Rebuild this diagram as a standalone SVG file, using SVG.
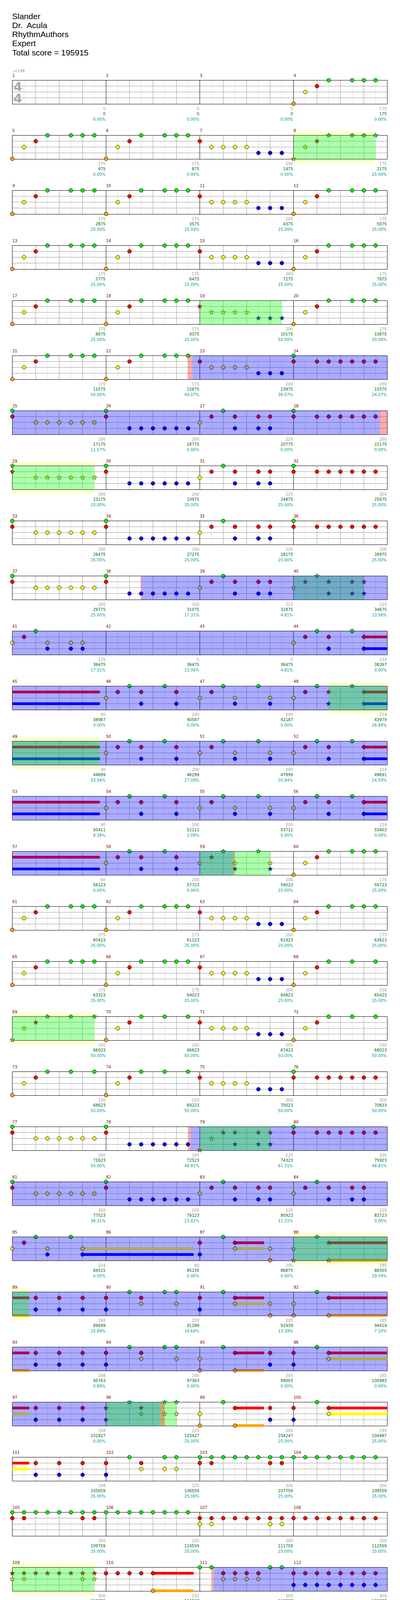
<svg xmlns="http://www.w3.org/2000/svg" width="1024" height="5845" viewBox="0 0 1024 5845">
<style>
text{font-family:"DejaVu Sans","Liberation Sans",sans-serif;font-size:10px}
.h{font-family:"Liberation Sans",Arial,sans-serif;font-size:21px;fill:#000}
.n{fill:#800000}
.s{fill:#999;text-anchor:end}
.c{fill:#006400;text-anchor:end}
.p{fill:#009999;text-anchor:end}
.t{fill:#999}
.ts{fill:#aaa;font-size:32px;font-weight:bold}
.q{stroke:#000;stroke-width:1}
.oy{fill:#ff0;fill-opacity:.2}
.og{fill:#0f0;fill-opacity:.33}
.ob{fill:#00f;fill-opacity:.33}
.or{fill:#f00;fill-opacity:.33}
.zr,.zy,.zb,.zo{stroke-width:7;fill:none}
.zr{stroke:#f00}.zy{stroke:#ff0}.zb{stroke:#00f}.zo{stroke:#ffa500}
</style>
<defs>
<g id="S4">
<rect width="960" height="61" fill="#fff"/>
<path stroke="#ddd" d="M30 0V61M90 0V61M150 0V61M210 0V61M270 0V61M330 0V61M390 0V61M450 0V61M510 0V61M570 0V61M630 0V61M690 0V61M750 0V61M810 0V61M870 0V61M930 0V61"/>
<path stroke="#999" d="M60 0V61M120 0V61M180 0V61M300 0V61M360 0V61M420 0V61M540 0V61M600 0V61M660 0V61M780 0V61M840 0V61M900 0V61M0 15H960M0 30H960M0 45H960"/>
<path stroke="#000" fill="none" d="M0 0H960V61H0ZM240 0V61M480 0V61M720 0V61"/>
</g>
<g id="S3">
<rect width="720" height="61" fill="#fff"/>
<path stroke="#ddd" d="M30 0V61M90 0V61M150 0V61M210 0V61M270 0V61M330 0V61M390 0V61M450 0V61M510 0V61M570 0V61M630 0V61M690 0V61"/>
<path stroke="#999" d="M60 0V61M120 0V61M180 0V61M300 0V61M360 0V61M420 0V61M540 0V61M600 0V61M660 0V61M0 15H720M0 30H720M0 45H720"/>
<path stroke="#000" fill="none" d="M0 0H720V61H0ZM240 0V61M480 0V61"/>
</g>
<circle id="g" class="q" r="4.8" fill="#0e0"/>
<circle id="r" class="q" cy="15" r="4.8" fill="#f00"/>
<circle id="y" class="q" cy="30" r="4.8" fill="#ff0"/>
<circle id="b" class="q" cy="45" r="4.8" fill="#00f"/>
<circle id="o" class="q" cy="60" r="4.8" fill="#ffa500"/>
<path id="st" stroke="#000" stroke-width=".8" d="M0-6.2L1.47-2.02 5.9-1.92 2.38 0.77 3.64 5.02 0 2.5-3.64 5.02-2.38 0.77-5.9-1.92-1.47-2.02Z"/>
<use id="G" href="#st" fill="#0e0"/>
<use id="R" href="#st" y="15" fill="#f00"/>
<use id="Y" href="#st" y="30" fill="#ff0"/>
<use id="B" href="#st" y="45" fill="#00f"/>
<use id="O" href="#st" y="60" fill="#ffa500"/>
<g id="pA"><use href="#o"/><use href="#y" x="30"/><use href="#r" x="60"/><use href="#g" x="90"/><use href="#g" x="150"/><use href="#g" x="180"/><use href="#g" x="210"/></g>
<g id="pA2"><use href="#o"/><use href="#y" x="30"/><use href="#r" x="60"/><use href="#g" x="90"/><use href="#g" x="150"/><use href="#g" x="210"/></g>
<g id="pB"><use href="#r"/><use href="#y" x="30"/><use href="#y" x="60"/><use href="#y" x="90"/><use href="#y" x="120"/><use href="#b" x="150"/><use href="#b" x="180"/><use href="#b" x="210"/></g>
<g id="pC"><use href="#g"/><use href="#r"/><use href="#r" x="60"/><use href="#r" x="90"/><use href="#r" x="120"/><use href="#r" x="150"/><use href="#r" x="180"/><use href="#r" x="210"/></g>
<g id="pD"><use href="#g"/><use href="#r"/><use href="#y" x="60"/><use href="#y" x="90"/><use href="#y" x="120"/><use href="#y" x="150"/><use href="#y" x="180"/><use href="#y" x="210"/></g>
<g id="pE"><use href="#g"/><use href="#r"/><use href="#b" x="60"/><use href="#b" x="90"/><use href="#b" x="120"/><use href="#b" x="150"/><use href="#b" x="180"/><use href="#b" x="210"/></g>
<g id="pF"><use href="#y"/><use href="#r" x="30"/><use href="#g" x="60"/><use href="#r" x="90"/><use href="#b" x="90"/><use href="#r" x="150"/><use href="#b" x="150"/><use href="#r" x="180"/><use href="#b" x="180"/></g>
<g id="pG"><use href="#y"/><use href="#r" x="30"/><use href="#g" x="60"/><use href="#r" x="90"/><use href="#b" x="90"/><use href="#g" x="150"/><use href="#r" x="180"/><use href="#b" x="180"/></g>
<g id="pH"><use href="#y"/><use href="#r" x="30"/><use href="#g" x="60"/><use href="#y" x="90"/><use href="#b" x="90"/><use href="#y" x="150"/><use href="#b" x="150"/><use href="#y" x="180"/><use href="#b" x="180"/></g>
<g id="pJ"><use href="#y"/><use href="#r" x="30"/><use href="#g" x="60"/><use href="#y" x="90"/><use href="#b" x="90"/><use href="#g" x="150"/><use href="#y" x="180"/><use href="#b" x="180"/></g>
<g id="pK"><use href="#r" x="60"/><use href="#b" x="60"/><use href="#r" x="120"/><use href="#b" x="120"/><use href="#r" x="180"/><use href="#b" x="180"/></g>
<g id="pL"><use href="#r"/><use href="#b"/><use href="#g" x="60"/><use href="#r" x="90"/><use href="#y" x="90"/><use href="#g" x="150"/><use href="#g" x="180"/><use href="#y" x="180"/></g>
<g id="pL2"><use href="#r"/><use href="#b"/><use href="#g" x="60"/><use href="#r" x="90"/><use href="#y" x="90"/><use href="#g" x="150"/><use href="#y" x="150"/><use href="#g" x="180"/><use href="#y" x="180"/></g>
<g id="p8g"><use href="#g"/><use href="#g" x="30"/><use href="#g" x="60"/><use href="#g" x="90"/><use href="#g" x="120"/><use href="#g" x="150"/><use href="#g" x="180"/><use href="#g" x="210"/></g>
<g id="p8r"><use href="#r"/><use href="#r" x="30"/><use href="#r" x="60"/><use href="#r" x="90"/><use href="#r" x="120"/><use href="#r" x="150"/><use href="#r" x="180"/><use href="#r" x="210"/></g>
<g id="p8y"><use href="#y"/><use href="#y" x="30"/><use href="#y" x="60"/><use href="#y" x="90"/><use href="#y" x="120"/><use href="#y" x="150"/><use href="#y" x="180"/><use href="#y" x="210"/></g>
<g id="p8b"><use href="#b"/><use href="#b" x="30"/><use href="#b" x="60"/><use href="#b" x="90"/><use href="#b" x="120"/><use href="#b" x="150"/><use href="#b" x="180"/><use href="#b" x="210"/></g>
<g id="p8o"><use href="#o"/><use href="#o" x="30"/><use href="#o" x="60"/><use href="#o" x="90"/><use href="#o" x="120"/><use href="#o" x="150"/><use href="#o" x="180"/><use href="#o" x="210"/></g>
<g id="pM"><use href="#g"/><use href="#g" x="30"/><use href="#r" x="60"/><use href="#y" x="60"/><use href="#r" x="90"/><use href="#y" x="90"/><use href="#r" x="120"/><use href="#y" x="120"/><use href="#r" x="150"/><use href="#y" x="150"/><use href="#g" x="180"/><use href="#g" x="210"/></g>
<g id="pW"><use href="#g"/><use href="#g" x="30"/><use href="#r" x="60"/><use href="#o" x="60"/><use href="#r" x="90"/><use href="#o" x="90"/><use href="#r" x="120"/><use href="#o" x="120"/><use href="#r" x="150"/><use href="#o" x="150"/><use href="#g" x="180"/><use href="#g" x="210"/></g>
<g id="pO"><use href="#y"/><use href="#o"/><use href="#y" x="30"/><use href="#o" x="30"/><use href="#y" x="60"/><use href="#o" x="60"/><use href="#y" x="90"/><use href="#o" x="90"/><use href="#b" x="120"/><use href="#o" x="120"/><use href="#y" x="165"/><use href="#o" x="165"/><use href="#y" x="210"/><use href="#b" x="210"/></g>
<g id="pP"><use href="#y"/><use href="#o"/><use href="#y" x="60"/><use href="#o" x="60"/><use href="#y" x="90"/><use href="#o" x="90"/><use href="#y" x="120"/><use href="#o" x="120"/><use href="#y" x="150"/><use href="#o" x="150"/><use href="#y" x="180"/><use href="#o" x="180"/><use href="#y" x="210"/><use href="#o" x="210"/></g>
<g id="pR"><use href="#g"/><use href="#r"/><use href="#g" x="30"/><use href="#r" x="30"/><use href="#g" x="45"/><use href="#r" x="45"/><use href="#g" x="75"/><use href="#r" x="75"/><use href="#g" x="90"/><use href="#r" x="90"/></g>
<g id="pS"><path class="zy" d="M0 30H74.4M90 30H164.5M360 30H404.9M420 30H464.3"/><path class="zo" d="M0 60H74.4M270 60H344.8M360 60H404.9"/><path class="zr" d="M90 15H164.5M180 15H254.7"/><path class="zb" d="M180 45H254.7M270 45H344.8M420 45H464.3"/><use href="#y"/><use href="#o"/><use href="#r" x="90"/><use href="#y" x="90"/><use href="#r" x="180"/><use href="#b" x="180"/><use href="#b" x="270"/><use href="#o" x="270"/><use href="#y" x="360"/><use href="#o" x="360"/><use href="#y" x="420"/><use href="#b" x="420"/></g>
<g id="pT"><use href="#r" x="30"/><use href="#r" x="45"/><use href="#y" x="60"/><use href="#y" x="75"/><use href="#r" x="90"/><use href="#r" x="105"/><use href="#y" x="150"/><use href="#y" x="165"/><use href="#b" x="180"/><use href="#b" x="195"/><use href="#y" x="210"/><use href="#y" x="225"/></g>
<g id="pU"><use href="#r" x="30"/><use href="#r" x="45"/><use href="#y" x="60"/><use href="#y" x="75"/><use href="#r" x="90"/><use href="#r" x="105"/><use href="#g" x="150"/><use href="#g" x="165"/><use href="#r" x="180"/><use href="#r" x="195"/><use href="#g" x="210"/><use href="#g" x="225"/></g>
<g id="pV"><use href="#r" x="30"/><use href="#r" x="45"/><use href="#y" x="60"/><use href="#y" x="75"/><use href="#r" x="90"/><use href="#r" x="105"/><use href="#b" x="150"/><use href="#b" x="165"/><use href="#o" x="180"/><use href="#o" x="195"/><use href="#b" x="210"/><use href="#b" x="225"/></g>
<g id="pX"><use href="#g"/><use href="#g" x="30"/><use href="#g" x="45"/><use href="#g" x="75"/></g>
</defs>
<rect width="1024" height="5845" fill="#fff"/>
<g id="header">
<text class="h" x="31" y="49">Slander</text>
<text class="h" x="31" y="72" xml:space="preserve">Dr.  Acula</text>
<text class="h" x="31" y="95">RhythmAuthors</text>
<text class="h" x="31" y="118">Expert</text>
<text class="h" x="31" y="141.5">Total score = 195915</text>
</g>

<g id="row0" transform="translate(31.5 205.5)">
<text class="t" x="0" y="-20.5">♩=196</text>
<use href="#S4"/>
<text class="ts" x="3" y="27">4</text><text class="ts" x="3" y="57">4</text>
<use href="#pA" x="720"/>
<text class="n" y="-8.5"><tspan x="0">1</tspan><tspan x="240">2</tspan><tspan x="480">3</tspan><tspan x="720">4</tspan></text>
<text class="s" y="76.5"><tspan x="238.5">0</tspan><tspan x="478.5">0</tspan><tspan x="718.5">0</tspan><tspan x="958.5">175</tspan></text>
<text class="c" y="89.5"><tspan x="238.5">0</tspan><tspan x="478.5">0</tspan><tspan x="718.5">0</tspan><tspan x="958.5">175</tspan></text>
<text class="p" y="103"><tspan x="238.5">0.00%</tspan><tspan x="478.5">0.00%</tspan><tspan x="718.5">0.00%</tspan><tspan x="958.5">0.00%</tspan></text>
</g>

<g id="row1" transform="translate(31.5 346.5)">
<rect class="oy" x="720" y="-10.5" width="210" height="82"/>
<use href="#S4"/>
<use href="#pA"/><use href="#pA" x="240"/><use href="#pB" x="480"/>
<use href="#O" x="720"/><use href="#Y" x="750"/><use href="#R" x="780"/><use href="#G" x="810"/><use href="#G" x="870"/><use href="#G" x="900"/><use href="#G" x="930"/>
<rect class="og" x="720" width="210" height="61"/>
<text class="n" y="-8.5"><tspan x="0">5</tspan><tspan x="240">6</tspan><tspan x="480">7</tspan><tspan x="720">8</tspan></text>
<text class="s" y="76.5"><tspan x="238.5">175</tspan><tspan x="478.5">175</tspan><tspan x="718.5">200</tspan><tspan x="958.5">175</tspan></text>
<text class="c" y="89.5"><tspan x="238.5">475</tspan><tspan x="478.5">875</tspan><tspan x="718.5">1475</tspan><tspan x="958.5">2175</tspan></text>
<text class="p" y="103"><tspan x="238.5">0.00%</tspan><tspan x="478.5">0.00%</tspan><tspan x="718.5">0.00%</tspan><tspan x="958.5">25.00%</tspan></text>
</g>

<g id="row2" transform="translate(31.5 487.5)">
<use href="#S4"/>
<use href="#pA"/><use href="#pA" x="240"/><use href="#pB" x="480"/><use href="#pA" x="720"/>
<text class="n" y="-8.5"><tspan x="0">9</tspan><tspan x="240">10</tspan><tspan x="480">11</tspan><tspan x="720">12</tspan></text>
<text class="s" y="76.5"><tspan x="238.5">175</tspan><tspan x="478.5">175</tspan><tspan x="718.5">200</tspan><tspan x="958.5">175</tspan></text>
<text class="c" y="89.5"><tspan x="238.5">2875</tspan><tspan x="478.5">3575</tspan><tspan x="718.5">4375</tspan><tspan x="958.5">5075</tspan></text>
<text class="p" y="103"><tspan x="238.5">25.00%</tspan><tspan x="478.5">25.00%</tspan><tspan x="718.5">25.00%</tspan><tspan x="958.5">25.00%</tspan></text>
</g>

<g id="row3" transform="translate(31.5 628.5)">
<use href="#S4"/>
<use href="#pA"/><use href="#pA" x="240"/><use href="#pB" x="480"/><use href="#pA" x="720"/>
<text class="n" y="-8.5"><tspan x="0">13</tspan><tspan x="240">14</tspan><tspan x="480">15</tspan><tspan x="720">16</tspan></text>
<text class="s" y="76.5"><tspan x="238.5">175</tspan><tspan x="478.5">175</tspan><tspan x="718.5">200</tspan><tspan x="958.5">175</tspan></text>
<text class="c" y="89.5"><tspan x="238.5">5775</tspan><tspan x="478.5">6475</tspan><tspan x="718.5">7275</tspan><tspan x="958.5">7975</tspan></text>
<text class="p" y="103"><tspan x="238.5">25.00%</tspan><tspan x="478.5">25.00%</tspan><tspan x="718.5">25.00%</tspan><tspan x="958.5">25.00%</tspan></text>
</g>

<g id="row4" transform="translate(31.5 769.5)">
<use href="#S4"/>
<use href="#pA"/><use href="#pA" x="240"/>
<use href="#R" x="480"/><use href="#Y" x="510"/><use href="#Y" x="540"/><use href="#Y" x="570"/><use href="#Y" x="600"/><use href="#B" x="630"/><use href="#B" x="660"/><use href="#B" x="690"/>
<use href="#pA" x="720"/>
<rect class="og" x="480" width="210" height="61"/>
<text class="n" y="-8.5"><tspan x="0">17</tspan><tspan x="240">18</tspan><tspan x="480">19</tspan><tspan x="720">20</tspan></text>
<text class="s" y="76.5"><tspan x="238.5">175</tspan><tspan x="478.5">175</tspan><tspan x="718.5">200</tspan><tspan x="958.5">175</tspan></text>
<text class="c" y="89.5"><tspan x="238.5">8675</tspan><tspan x="478.5">9375</tspan><tspan x="718.5">10175</tspan><tspan x="958.5">10875</tspan></text>
<text class="p" y="103"><tspan x="238.5">25.00%</tspan><tspan x="478.5">25.00%</tspan><tspan x="718.5">50.00%</tspan><tspan x="958.5">50.00%</tspan></text>
</g>

<g id="row5" transform="translate(31.5 910.5)">
<use href="#S4"/>
<use href="#pA"/><use href="#pA" x="240"/><use href="#pB" x="480"/><use href="#pC" x="720"/>
<rect class="or" x="449" width="12" height="61"/>
<rect class="ob" x="461" width="499" height="61"/>
<text class="n" y="-8.5"><tspan x="0">21</tspan><tspan x="240">22</tspan><tspan x="480">23</tspan><tspan x="720">24</tspan></text>
<text class="s" y="76.5"><tspan x="238.5">175</tspan><tspan x="478.5">175</tspan><tspan x="718.5">200</tspan><tspan x="958.5">200</tspan></text>
<text class="c" y="89.5"><tspan x="238.5">11575</tspan><tspan x="478.5">12875</tspan><tspan x="718.5">13975</tspan><tspan x="958.5">15575</tspan></text>
<text class="p" y="103"><tspan x="238.5">50.00%</tspan><tspan x="478.5">49.07%</tspan><tspan x="718.5">36.57%</tspan><tspan x="958.5">24.07%</tspan></text>
</g>

<g id="row6" transform="translate(31.5 1051.5)">
<use href="#S4"/>
<use href="#pD"/><use href="#pE" x="240"/><use href="#pF" x="480"/><use href="#pC" x="720"/>
<rect class="ob" x="0" width="941.7" height="61"/>
<rect class="or" x="941.7" width="18.3" height="61"/>
<text class="n" y="-8.5"><tspan x="0">25</tspan><tspan x="240">26</tspan><tspan x="480">27</tspan><tspan x="720">28</tspan></text>
<text class="s" y="76.5"><tspan x="238.5">200</tspan><tspan x="478.5">200</tspan><tspan x="718.5">225</tspan><tspan x="958.5">200</tspan></text>
<text class="c" y="89.5"><tspan x="238.5">17175</tspan><tspan x="478.5">18775</tspan><tspan x="718.5">20775</tspan><tspan x="958.5">22175</tspan></text>
<text class="p" y="103"><tspan x="238.5">11.57%</tspan><tspan x="478.5">0.00%</tspan><tspan x="718.5">0.00%</tspan><tspan x="958.5">0.00%</tspan></text>
</g>

<g id="row7" transform="translate(31.5 1192.5)">
<rect class="oy" x="0" y="-10.5" width="210" height="82"/>
<use href="#S4"/>
<use href="#G"/><use href="#R"/><use href="#Y" x="60"/><use href="#Y" x="90"/><use href="#Y" x="120"/><use href="#Y" x="150"/><use href="#Y" x="180"/><use href="#Y" x="210"/>
<use href="#pE" x="240"/><use href="#pF" x="480"/><use href="#pC" x="720"/>
<rect class="og" x="0" width="210" height="61"/>
<text class="n" y="-8.5"><tspan x="0">29</tspan><tspan x="240">30</tspan><tspan x="480">31</tspan><tspan x="720">32</tspan></text>
<text class="s" y="76.5"><tspan x="238.5">200</tspan><tspan x="478.5">200</tspan><tspan x="718.5">225</tspan><tspan x="958.5">200</tspan></text>
<text class="c" y="89.5"><tspan x="238.5">23175</tspan><tspan x="478.5">23975</tspan><tspan x="718.5">24875</tspan><tspan x="958.5">25675</tspan></text>
<text class="p" y="103"><tspan x="238.5">25.00%</tspan><tspan x="478.5">25.00%</tspan><tspan x="718.5">25.00%</tspan><tspan x="958.5">25.00%</tspan></text>
</g>

<g id="row8" transform="translate(31.5 1333.5)">
<use href="#S4"/>
<use href="#pD"/><use href="#pE" x="240"/><use href="#pF" x="480"/><use href="#pC" x="720"/>
<text class="n" y="-8.5"><tspan x="0">33</tspan><tspan x="240">34</tspan><tspan x="480">35</tspan><tspan x="720">36</tspan></text>
<text class="s" y="76.5"><tspan x="238.5">200</tspan><tspan x="478.5">200</tspan><tspan x="718.5">225</tspan><tspan x="958.5">200</tspan></text>
<text class="c" y="89.5"><tspan x="238.5">26475</tspan><tspan x="478.5">27275</tspan><tspan x="718.5">28175</tspan><tspan x="958.5">28975</tspan></text>
<text class="p" y="103"><tspan x="238.5">25.00%</tspan><tspan x="478.5">25.00%</tspan><tspan x="718.5">25.00%</tspan><tspan x="958.5">25.00%</tspan></text>
</g>

<g id="row9" transform="translate(31.5 1474.5)">
<use href="#S4"/>
<use href="#pD"/><use href="#pE" x="240"/><use href="#pF" x="480"/>
<use href="#Y" x="720"/><use href="#R" x="750"/><use href="#G" x="780"/><use href="#R" x="810"/><use href="#B" x="810"/><use href="#R" x="870"/><use href="#B" x="870"/><use href="#R" x="900"/><use href="#B" x="900"/>
<rect class="og" x="720" width="180" height="61"/>
<rect class="or" x="328.5" width="2.5" height="61"/>
<rect class="ob" x="331" width="629" height="61"/>
<text class="n" y="-8.5"><tspan x="0">37</tspan><tspan x="240">38</tspan><tspan x="480">39</tspan><tspan x="720">40</tspan></text>
<text class="s" y="76.5"><tspan x="238.5">200</tspan><tspan x="478.5">200</tspan><tspan x="718.5">225</tspan><tspan x="958.5">225</tspan></text>
<text class="c" y="89.5"><tspan x="238.5">29775</tspan><tspan x="478.5">31075</tspan><tspan x="718.5">32875</tspan><tspan x="958.5">34675</tspan></text>
<text class="p" y="103"><tspan x="238.5">25.00%</tspan><tspan x="478.5">17.31%</tspan><tspan x="718.5">4.81%</tspan><tspan x="958.5">23.56%</tspan></text>
</g>

<g id="row10" transform="translate(31.5 1615.5)">
<use href="#S4"/>
<path class="zr" d="M900 15H960"/><path class="zb" d="M900 45H960"/>
<use href="#pH"/><use href="#pG" x="720"/>
<rect class="ob" x="0" width="960" height="61"/>
<text class="n" y="-8.5"><tspan x="0">41</tspan><tspan x="240">42</tspan><tspan x="480">43</tspan><tspan x="720">44</tspan></text>
<text class="s" y="76.5"><tspan x="238.5">225</tspan><tspan x="478.5">0</tspan><tspan x="718.5">0</tspan><tspan x="958.5">224</tspan></text>
<text class="c" y="89.5"><tspan x="238.5">36475</tspan><tspan x="478.5">36475</tspan><tspan x="718.5">36475</tspan><tspan x="958.5">38267</tspan></text>
<text class="p" y="103"><tspan x="238.5">17.31%</tspan><tspan x="478.5">11.06%</tspan><tspan x="718.5">4.81%</tspan><tspan x="958.5">0.00%</tspan></text>
</g>

<g id="row11" transform="translate(31.5 1756.5)">
<rect class="oy" x="810" y="-10.5" width="150" height="82"/>
<use href="#S4"/>
<path class="zr" d="M0 15H224M900 15H960"/><path class="zb" d="M0 45H224M900 45H960"/>
<use href="#pG" x="240"/><use href="#pJ" x="480"/>
<use href="#y" x="720"/><use href="#r" x="750"/><use href="#g" x="780"/>
<use href="#R" x="810"/><use href="#B" x="810"/><use href="#G" x="870"/><use href="#R" x="900"/><use href="#B" x="900"/>
<rect class="ob" x="0" width="960" height="61"/>
<rect class="og" x="810" width="150" height="61"/>
<text class="n" y="-8.5"><tspan x="0">45</tspan><tspan x="240">46</tspan><tspan x="480">47</tspan><tspan x="720">48</tspan></text>
<text class="s" y="76.5"><tspan x="238.5">90</tspan><tspan x="478.5">200</tspan><tspan x="718.5">200</tspan><tspan x="958.5">224</tspan></text>
<text class="c" y="89.5"><tspan x="238.5">38987</tspan><tspan x="478.5">40587</tspan><tspan x="718.5">42187</tspan><tspan x="958.5">43979</tspan></text>
<text class="p" y="103"><tspan x="238.5">0.00%</tspan><tspan x="478.5">0.00%</tspan><tspan x="718.5">0.00%</tspan><tspan x="958.5">26.84%</tspan></text>
</g>

<g id="row12" transform="translate(31.5 1897.5)">
<rect class="oy" x="0" y="-10.5" width="224" height="82"/>
<use href="#S4"/>
<path class="zr" d="M0 15H224M900 15H960"/><path class="zb" d="M0 45H224M900 45H960"/>
<use href="#pG" x="240"/><use href="#pJ" x="480"/><use href="#pG" x="720"/>
<rect class="ob" x="0" width="960" height="61"/>
<rect class="og" x="0" width="224" height="61"/>
<text class="n" y="-8.5"><tspan x="0">49</tspan><tspan x="240">50</tspan><tspan x="480">51</tspan><tspan x="720">52</tspan></text>
<text class="s" y="76.5"><tspan x="238.5">90</tspan><tspan x="478.5">200</tspan><tspan x="718.5">200</tspan><tspan x="958.5">224</tspan></text>
<text class="c" y="89.5"><tspan x="238.5">44699</tspan><tspan x="478.5">46299</tspan><tspan x="718.5">47899</tspan><tspan x="958.5">49691</tspan></text>
<text class="p" y="103"><tspan x="238.5">33.34%</tspan><tspan x="478.5">27.09%</tspan><tspan x="718.5">20.84%</tspan><tspan x="958.5">14.59%</tspan></text>
</g>

<g id="row13" transform="translate(31.5 2038.5)">
<use href="#S4"/>
<path class="zr" d="M0 15H224M900 15H960"/><path class="zb" d="M0 45H224M900 45H960"/>
<use href="#pG" x="240"/><use href="#pJ" x="480"/><use href="#pG" x="720"/>
<rect class="ob" x="0" width="960" height="61"/>
<text class="n" y="-8.5"><tspan x="0">53</tspan><tspan x="240">54</tspan><tspan x="480">55</tspan><tspan x="720">56</tspan></text>
<text class="s" y="76.5"><tspan x="238.5">90</tspan><tspan x="478.5">200</tspan><tspan x="718.5">200</tspan><tspan x="958.5">224</tspan></text>
<text class="c" y="89.5"><tspan x="238.5">50411</tspan><tspan x="478.5">52111</tspan><tspan x="718.5">53711</tspan><tspan x="958.5">55403</tspan></text>
<text class="p" y="103"><tspan x="238.5">8.34%</tspan><tspan x="478.5">2.09%</tspan><tspan x="718.5">0.00%</tspan><tspan x="958.5">0.00%</tspan></text>
</g>

<g id="row14" transform="translate(31.5 2179.5)">
<use href="#S4"/>
<path class="zr" d="M0 15H224"/><path class="zb" d="M0 45H224"/>
<use href="#pG" x="240"/>
<use href="#Y" x="480"/><use href="#R" x="510"/><use href="#G" x="540"/><use href="#Y" x="570"/><use href="#B" x="570"/><use href="#G" x="630"/><use href="#Y" x="660"/><use href="#B" x="660"/>
<use href="#pA" x="720"/>
<rect class="ob" x="0" width="564.8" height="61"/>
<rect class="og" x="480" width="180" height="61"/>
<rect class="or" x="564.8" width="4.6" height="61"/>
<text class="n" y="-8.5"><tspan x="0">57</tspan><tspan x="240">58</tspan><tspan x="480">59</tspan><tspan x="720">60</tspan></text>
<text class="s" y="76.5"><tspan x="238.5">90</tspan><tspan x="478.5">200</tspan><tspan x="718.5">200</tspan><tspan x="958.5">175</tspan></text>
<text class="c" y="89.5"><tspan x="238.5">56123</tspan><tspan x="478.5">57723</tspan><tspan x="718.5">59023</tspan><tspan x="958.5">59723</tspan></text>
<text class="p" y="103"><tspan x="238.5">0.00%</tspan><tspan x="478.5">0.00%</tspan><tspan x="718.5">25.00%</tspan><tspan x="958.5">25.00%</tspan></text>
</g>

<g id="row15" transform="translate(31.5 2320.5)">
<use href="#S4"/>
<use href="#pA"/><use href="#pA" x="240"/><use href="#pB" x="480"/><use href="#pA" x="720"/>
<text class="n" y="-8.5"><tspan x="0">61</tspan><tspan x="240">62</tspan><tspan x="480">63</tspan><tspan x="720">64</tspan></text>
<text class="s" y="76.5"><tspan x="238.5">175</tspan><tspan x="478.5">175</tspan><tspan x="718.5">200</tspan><tspan x="958.5">175</tspan></text>
<text class="c" y="89.5"><tspan x="238.5">60423</tspan><tspan x="478.5">61123</tspan><tspan x="718.5">61923</tspan><tspan x="958.5">62623</tspan></text>
<text class="p" y="103"><tspan x="238.5">25.00%</tspan><tspan x="478.5">25.00%</tspan><tspan x="718.5">25.00%</tspan><tspan x="958.5">25.00%</tspan></text>
</g>

<g id="row16" transform="translate(31.5 2461.5)">
<use href="#S4"/>
<use href="#pA"/><use href="#pA" x="240"/><use href="#pB" x="480"/><use href="#pA2" x="720"/>
<text class="n" y="-8.5"><tspan x="0">65</tspan><tspan x="240">66</tspan><tspan x="480">67</tspan><tspan x="720">68</tspan></text>
<text class="s" y="76.5"><tspan x="238.5">175</tspan><tspan x="478.5">175</tspan><tspan x="718.5">200</tspan><tspan x="958.5">150</tspan></text>
<text class="c" y="89.5"><tspan x="238.5">63323</tspan><tspan x="478.5">64023</tspan><tspan x="718.5">64823</tspan><tspan x="958.5">65423</tspan></text>
<text class="p" y="103"><tspan x="238.5">25.00%</tspan><tspan x="478.5">25.00%</tspan><tspan x="718.5">25.00%</tspan><tspan x="958.5">25.00%</tspan></text>
</g>

<g id="row17" transform="translate(31.5 2602.5)">
<rect class="oy" x="0" y="-10.5" width="210" height="82"/>
<use href="#S4"/>
<use href="#O"/><use href="#Y" x="30"/><use href="#R" x="60"/><use href="#G" x="90"/><use href="#G" x="150"/><use href="#G" x="210"/>
<use href="#pA2" x="240"/><use href="#pB" x="480"/><use href="#pA2" x="720"/>
<rect class="og" x="0" width="210" height="61"/>
<text class="n" y="-8.5"><tspan x="0">69</tspan><tspan x="240">70</tspan><tspan x="480">71</tspan><tspan x="720">72</tspan></text>
<text class="s" y="76.5"><tspan x="238.5">150</tspan><tspan x="478.5">150</tspan><tspan x="718.5">200</tspan><tspan x="958.5">150</tspan></text>
<text class="c" y="89.5"><tspan x="238.5">66023</tspan><tspan x="478.5">66623</tspan><tspan x="718.5">67423</tspan><tspan x="958.5">68023</tspan></text>
<text class="p" y="103"><tspan x="238.5">50.00%</tspan><tspan x="478.5">50.00%</tspan><tspan x="718.5">50.00%</tspan><tspan x="958.5">50.00%</tspan></text>
</g>

<g id="row18" transform="translate(31.5 2743.5)">
<use href="#S4"/>
<use href="#pA2"/><use href="#pA2" x="240"/><use href="#pB" x="480"/><use href="#pC" x="720"/>
<text class="n" y="-8.5"><tspan x="0">73</tspan><tspan x="240">74</tspan><tspan x="480">75</tspan><tspan x="720">76</tspan></text>
<text class="s" y="76.5"><tspan x="238.5">150</tspan><tspan x="478.5">150</tspan><tspan x="718.5">200</tspan><tspan x="958.5">200</tspan></text>
<text class="c" y="89.5"><tspan x="238.5">68623</tspan><tspan x="478.5">69223</tspan><tspan x="718.5">70023</tspan><tspan x="958.5">70823</tspan></text>
<text class="p" y="103"><tspan x="238.5">50.00%</tspan><tspan x="478.5">50.00%</tspan><tspan x="718.5">50.00%</tspan><tspan x="958.5">50.00%</tspan></text>
</g>

<g id="row19" transform="translate(31.5 2884.5)">
<use href="#S4"/>
<use href="#pD"/><use href="#pE" x="240"/>
<use href="#O" x="480"/><use href="#Y" x="510"/><use href="#R" x="540"/><use href="#R" x="570"/><use href="#B" x="570"/><use href="#R" x="630"/><use href="#B" x="630"/><use href="#R" x="660"/><use href="#B" x="660"/>
<use href="#pC" x="720"/>
<rect class="or" x="449.9" width="6.5" height="61"/>
<rect class="ob" x="456.4" width="503.6" height="61"/>
<rect class="og" x="480" width="180" height="61"/>
<text class="n" y="-8.5"><tspan x="0">77</tspan><tspan x="240">78</tspan><tspan x="480">79</tspan><tspan x="720">80</tspan></text>
<text class="s" y="76.5"><tspan x="238.5">200</tspan><tspan x="478.5">200</tspan><tspan x="718.5">225</tspan><tspan x="958.5">200</tspan></text>
<text class="c" y="89.5"><tspan x="238.5">71623</tspan><tspan x="478.5">72523</tspan><tspan x="718.5">74323</tspan><tspan x="958.5">75923</tspan></text>
<text class="p" y="103"><tspan x="238.5">50.00%</tspan><tspan x="478.5">48.81%</tspan><tspan x="718.5">61.31%</tspan><tspan x="958.5">48.81%</tspan></text>
</g>

<g id="row20" transform="translate(31.5 3025.5)">
<use href="#S4"/>
<use href="#pD"/><use href="#pE" x="240"/><use href="#pF" x="480"/><use href="#pF" x="720"/>
<rect class="ob" x="0" width="960" height="61"/>
<text class="n" y="-8.5"><tspan x="0">81</tspan><tspan x="240">82</tspan><tspan x="480">83</tspan><tspan x="720">84</tspan></text>
<text class="s" y="76.5"><tspan x="238.5">200</tspan><tspan x="478.5">200</tspan><tspan x="718.5">225</tspan><tspan x="958.5">225</tspan></text>
<text class="c" y="89.5"><tspan x="238.5">77523</tspan><tspan x="478.5">79123</tspan><tspan x="718.5">80923</tspan><tspan x="958.5">82723</tspan></text>
<text class="p" y="103"><tspan x="238.5">36.31%</tspan><tspan x="478.5">23.81%</tspan><tspan x="718.5">11.31%</tspan><tspan x="958.5">0.00%</tspan></text>
</g>

<g id="row21" transform="translate(31.5 3166.5)">
<rect class="oy" x="720" y="-10.5" width="240" height="82"/>
<use href="#S4"/>
<path class="zy" d="M180 30H464.3M570 30H644.5"/><path class="zb" d="M180 45H464.3"/><path class="zr" d="M570 15H644.5M810 15H960"/><path class="zo" d="M810 60H960"/>
<use href="#pJ"/>
<use href="#r" x="480"/><use href="#b" x="480"/><use href="#g" x="540"/><use href="#r" x="570"/><use href="#y" x="570"/><use href="#y" x="660"/><use href="#o" x="660"/>
<use href="#Y" x="720"/><use href="#O" x="720"/><use href="#G" x="780"/><use href="#R" x="810"/><use href="#O" x="810"/>
<rect class="ob" x="0" width="960" height="61"/>
<rect class="og" x="720" width="240" height="61"/>
<text class="n" y="-8.5"><tspan x="0">85</tspan><tspan x="240">86</tspan><tspan x="480">87</tspan><tspan x="720">88</tspan></text>
<text class="s" y="76.5"><tspan x="238.5">224</tspan><tspan x="478.5">90</tspan><tspan x="718.5">205</tspan><tspan x="958.5">185</tspan></text>
<text class="c" y="89.5"><tspan x="238.5">84515</tspan><tspan x="478.5">85235</tspan><tspan x="718.5">86875</tspan><tspan x="958.5">88355</tspan></text>
<text class="p" y="103"><tspan x="238.5">0.00%</tspan><tspan x="478.5">0.00%</tspan><tspan x="718.5">0.00%</tspan><tspan x="958.5">29.59%</tspan></text>
</g>

<g id="row22" transform="translate(31.5 3307.5)">
<rect class="oy" x="0" y="-10.5" width="43.6" height="82"/>
<use href="#S4"/>
<path class="zr" d="M0 15H43.6M570 15H644.5M810 15H960"/><path class="zo" d="M0 60H43.6M810 60H960"/><path class="zy" d="M570 30H644.5"/>
<use href="#pK"/><use href="#pL" x="240"/>
<use href="#r" x="480"/><use href="#b" x="480"/><use href="#g" x="540"/><use href="#r" x="570"/><use href="#y" x="570"/><use href="#y" x="660"/><use href="#o" x="660"/>
<use href="#y" x="720"/><use href="#o" x="720"/><use href="#g" x="780"/><use href="#r" x="810"/><use href="#o" x="810"/>
<rect class="ob" x="0" width="960" height="61"/>
<rect class="og" x="0" width="43.6" height="61"/>
<text class="n" y="-8.5"><tspan x="0">89</tspan><tspan x="240">90</tspan><tspan x="480">91</tspan><tspan x="720">92</tspan></text>
<text class="s" y="76.5"><tspan x="238.5">168</tspan><tspan x="478.5">200</tspan><tspan x="718.5">205</tspan><tspan x="958.5">185</tspan></text>
<text class="c" y="89.5"><tspan x="238.5">89699</tspan><tspan x="478.5">91299</tspan><tspan x="718.5">92939</tspan><tspan x="958.5">94419</tspan></text>
<text class="p" y="103"><tspan x="238.5">25.89%</tspan><tspan x="478.5">19.64%</tspan><tspan x="718.5">13.39%</tspan><tspan x="958.5">7.14%</tspan></text>
</g>

<g id="row23" transform="translate(31.5 3448.5)">
<use href="#S4"/>
<path class="zr" d="M0 15H43.6M570 15H644.5M810 15H960"/><path class="zo" d="M0 60H43.6M570 60H644.5"/><path class="zy" d="M810 30H960"/>
<use href="#pK"/><use href="#pL" x="240"/>
<use href="#y" x="480"/><use href="#o" x="480"/><use href="#g" x="540"/><use href="#r" x="570"/><use href="#o" x="570"/><use href="#r" x="660"/><use href="#b" x="660"/>
<use href="#r" x="720"/><use href="#b" x="720"/><use href="#g" x="780"/><use href="#r" x="810"/><use href="#y" x="810"/>
<rect class="ob" x="0" width="960" height="61"/>
<text class="n" y="-8.5"><tspan x="0">93</tspan><tspan x="240">94</tspan><tspan x="480">95</tspan><tspan x="720">96</tspan></text>
<text class="s" y="76.5"><tspan x="238.5">168</tspan><tspan x="478.5">200</tspan><tspan x="718.5">205</tspan><tspan x="958.5">185</tspan></text>
<text class="c" y="89.5"><tspan x="238.5">95763</tspan><tspan x="478.5">97363</tspan><tspan x="718.5">99003</tspan><tspan x="958.5">100483</tspan></text>
<text class="p" y="103"><tspan x="238.5">0.89%</tspan><tspan x="478.5">0.00%</tspan><tspan x="718.5">0.00%</tspan><tspan x="958.5">0.00%</tspan></text>
</g>

<g id="row24" transform="translate(31.5 3589.5)">
<use href="#S4"/>
<path class="zr" d="M0 15H43.6M570 15H644.5M810 15H960"/><path class="zy" d="M0 30H43.6M810 30H960"/><path class="zo" d="M570 60H644.5"/>
<use href="#pK"/>
<use href="#R" x="240"/><use href="#B" x="240"/><use href="#G" x="300"/><use href="#R" x="330"/><use href="#Y" x="330"/><use href="#G" x="390"/><use href="#Y" x="390"/><use href="#G" x="420"/><use href="#Y" x="420"/>
<use href="#y" x="480"/><use href="#o" x="480"/><use href="#g" x="540"/><use href="#r" x="570"/><use href="#o" x="570"/><use href="#r" x="660"/><use href="#b" x="660"/>
<use href="#r" x="720"/><use href="#b" x="720"/><use href="#g" x="780"/><use href="#r" x="810"/><use href="#y" x="810"/>
<rect class="ob" x="0" width="378" height="61"/>
<rect class="og" x="240" width="180" height="61"/>
<rect class="or" x="378" width="11.8" height="61"/>
<text class="n" y="-8.5"><tspan x="0">97</tspan><tspan x="240">98</tspan><tspan x="480">99</tspan><tspan x="720">100</tspan></text>
<text class="s" y="76.5"><tspan x="238.5">168</tspan><tspan x="478.5">225</tspan><tspan x="718.5">205</tspan><tspan x="958.5">185</tspan></text>
<text class="c" y="89.5"><tspan x="238.5">101827</tspan><tspan x="478.5">103427</tspan><tspan x="718.5">104247</tspan><tspan x="958.5">104987</tspan></text>
<text class="p" y="103"><tspan x="238.5">0.00%</tspan><tspan x="478.5">25.00%</tspan><tspan x="718.5">25.00%</tspan><tspan x="958.5">25.00%</tspan></text>
</g>

<g id="row25" transform="translate(31.5 3730.5)">
<use href="#S4"/>
<path class="zr" d="M0 15H43.6"/><path class="zy" d="M0 30H43.6"/>
<use href="#pK"/><use href="#pL2" x="240"/>
<use href="#p8g" x="480"/><use href="#r" x="480"/><use href="#r" x="510"/><use href="#r" x="660"/><use href="#r" x="690"/>
<use href="#p8g" x="720"/>
<text class="n" y="-8.5"><tspan x="0">101</tspan><tspan x="240">102</tspan><tspan x="480">103</tspan><tspan x="720">104</tspan></text>
<text class="s" y="76.5"><tspan x="238.5">168</tspan><tspan x="478.5">225</tspan><tspan x="718.5">300</tspan><tspan x="958.5">200</tspan></text>
<text class="c" y="89.5"><tspan x="238.5">105659</tspan><tspan x="478.5">106559</tspan><tspan x="718.5">107759</tspan><tspan x="958.5">108559</tspan></text>
<text class="p" y="103"><tspan x="238.5">25.00%</tspan><tspan x="478.5">25.00%</tspan><tspan x="718.5">25.00%</tspan><tspan x="958.5">25.00%</tspan></text>
</g>

<g id="row26" transform="translate(31.5 3871.5)">
<use href="#S4"/>
<use href="#p8g"/><use href="#r"/><use href="#r" x="30"/><use href="#r" x="180"/><use href="#r" x="210"/>
<use href="#p8g" x="240"/>
<use href="#p8r" x="480"/><use href="#y" x="480"/><use href="#y" x="510"/><use href="#y" x="660"/><use href="#y" x="690"/>
<use href="#p8r" x="720"/>
<text class="n" y="-8.5"><tspan x="0">105</tspan><tspan x="240">106</tspan><tspan x="480">107</tspan><tspan x="720">108</tspan></text>
<text class="s" y="76.5"><tspan x="238.5">300</tspan><tspan x="478.5">200</tspan><tspan x="718.5">300</tspan><tspan x="958.5">200</tspan></text>
<text class="c" y="89.5"><tspan x="238.5">109759</tspan><tspan x="478.5">110559</tspan><tspan x="718.5">111759</tspan><tspan x="958.5">112559</tspan></text>
<text class="p" y="103"><tspan x="238.5">25.00%</tspan><tspan x="478.5">25.00%</tspan><tspan x="718.5">25.00%</tspan><tspan x="958.5">25.00%</tspan></text>
</g>

<g id="row27" transform="translate(31.5 4012.5)">
<rect class="oy" x="0" y="-10.5" width="210" height="82"/>
<use href="#S4"/>
<path class="zr" d="M360 15H464.3"/><path class="zo" d="M360 60H464.3"/>
<use href="#R"/><use href="#Y"/><use href="#R" x="30"/><use href="#Y" x="30"/><use href="#R" x="60"/><use href="#R" x="90"/><use href="#R" x="120"/><use href="#R" x="150"/><use href="#R" x="180"/><use href="#Y" x="180"/><use href="#R" x="210"/><use href="#Y" x="210"/>
<use href="#r" x="240"/><use href="#r" x="270"/><use href="#r" x="300"/><use href="#r" x="330"/><use href="#r" x="360"/><use href="#o" x="360"/>
<use href="#pM" x="480"/><use href="#p8r" x="720"/><use href="#p8b" x="720"/>
<rect class="og" x="0" width="210" height="61"/>
<rect class="or" x="510" width="6" height="61"/>
<rect class="ob" x="516" width="444" height="61"/>
<text class="n" y="-8.5"><tspan x="0">109</tspan><tspan x="240">110</tspan><tspan x="480">111</tspan><tspan x="720">112</tspan></text>
<text class="s" y="76.5"><tspan x="238.5">300</tspan><tspan x="478.5">192</tspan><tspan x="718.5">300</tspan><tspan x="958.5">400</tspan></text>
<text class="c" y="89.5"><tspan x="238.5">113759</tspan><tspan x="478.5">114527</tspan><tspan x="718.5">116827</tspan><tspan x="958.5">120027</tspan></text>
<text class="p" y="103"><tspan x="238.5">50.00%</tspan><tspan x="478.5">50.00%</tspan><tspan x="718.5">44.73%</tspan><tspan x="958.5">38.48%</tspan></text>
</g>

<g id="row28" transform="translate(31.5 4153.5)">
<use href="#S4"/>
<use href="#pW"/>
<use href="#r" x="240"/><use href="#p8o" x="240"/><use href="#y" x="270"/><use href="#y" x="300"/><use href="#y" x="330"/><use href="#y" x="360"/><use href="#y" x="390"/><use href="#y" x="420"/>
<use href="#pM" x="480"/><use href="#p8r" x="720"/><use href="#p8b" x="720"/>
<rect class="ob" x="0" width="960" height="61"/>
<text class="n" y="-8.5"><tspan x="0">113</tspan><tspan x="240">114</tspan><tspan x="480">115</tspan><tspan x="720">116</tspan></text>
<text class="s" y="76.5"><tspan x="238.5">300</tspan><tspan x="478.5">350</tspan><tspan x="718.5">300</tspan><tspan x="958.5">400</tspan></text>
<text class="c" y="89.5"><tspan x="238.5">122427</tspan><tspan x="478.5">125227</tspan><tspan x="718.5">127627</tspan><tspan x="958.5">130827</tspan></text>
<text class="p" y="103"><tspan x="238.5">32.23%</tspan><tspan x="478.5">25.98%</tspan><tspan x="718.5">19.73%</tspan><tspan x="958.5">13.48%</tspan></text>
</g>

<g id="row29" transform="translate(31.5 4294.5)">
<use href="#S4"/>
<use href="#pW"/>
<use href="#r" x="240"/><use href="#p8o" x="240"/><use href="#y" x="270"/><use href="#y" x="300"/><use href="#y" x="330"/><use href="#y" x="360"/><use href="#y" x="390"/><use href="#y" x="420"/><use href="#y" x="450"/>
<use href="#Y" x="480"/><use href="#O" x="480"/><use href="#Y" x="510"/><use href="#O" x="510"/><use href="#Y" x="540"/><use href="#O" x="540"/><use href="#Y" x="570"/><use href="#O" x="570"/><use href="#Y" x="600"/><use href="#O" x="600"/><use href="#Y" x="630"/><use href="#O" x="630"/><use href="#Y" x="660"/><use href="#O" x="660"/><use href="#Y" x="690"/><use href="#O" x="690"/>
<use href="#pO" x="720"/>
<rect class="ob" x="0" width="960" height="61"/>
<rect class="og" x="480" width="210" height="61"/>
<text class="n" y="-8.5"><tspan x="0">117</tspan><tspan x="240">118</tspan><tspan x="480">119</tspan><tspan x="720">120</tspan></text>
<text class="s" y="76.5"><tspan x="238.5">300</tspan><tspan x="478.5">400</tspan><tspan x="718.5">400</tspan><tspan x="958.5">350</tspan></text>
<text class="c" y="89.5"><tspan x="238.5">133227</tspan><tspan x="478.5">136427</tspan><tspan x="718.5">139827</tspan><tspan x="958.5">142427</tspan></text>
<text class="p" y="103"><tspan x="238.5">7.23%</tspan><tspan x="478.5">0.98%</tspan><tspan x="718.5">23.44%</tspan><tspan x="958.5">10.94%</tspan></text>
</g>

<g id="row30" transform="translate(31.5 4435.5)">
<use href="#S4"/>
<use href="#pP"/><use href="#p8r" x="240"/><use href="#p8o" x="240"/><use href="#p8y" x="480"/><use href="#p8o" x="480"/><use href="#pO" x="720"/>
<rect class="ob" x="0" width="497" height="61"/>
<rect class="or" x="497" width="13" height="61"/>
<text class="n" y="-8.5"><tspan x="0">121</tspan><tspan x="240">122</tspan><tspan x="480">123</tspan><tspan x="720">124</tspan></text>
<text class="s" y="76.5"><tspan x="238.5">350</tspan><tspan x="478.5">400</tspan><tspan x="718.5">400</tspan><tspan x="958.5">350</tspan></text>
<text class="c" y="89.5"><tspan x="238.5">145227</tspan><tspan x="478.5">148427</tspan><tspan x="718.5">150427</tspan><tspan x="958.5">151827</tspan></text>
<text class="p" y="103"><tspan x="238.5">0.00%</tspan><tspan x="478.5">0.00%</tspan><tspan x="718.5">0.00%</tspan><tspan x="958.5">0.00%</tspan></text>
</g>

<g id="row31" transform="translate(31.5 4576.5)">
<text class="t" x="480" y="-20.5">♩=130</text>
<rect class="oy" x="720" y="-10.5" width="224.3" height="82"/>
<use href="#S4"/>
<path class="zy" d="M0 30H43.6M810 30H944.3"/><path class="zo" d="M0 60H43.6"/><path class="zr" d="M810 15H944.3"/>
<use href="#pP"/><use href="#p8r" x="240"/><use href="#p8o" x="240"/><use href="#pR" x="480"/>
<use href="#G" x="720"/><use href="#R" x="720"/><use href="#G" x="735"/><use href="#R" x="735"/><use href="#R" x="810"/><use href="#Y" x="810"/>
<rect class="og" x="720" width="224.3" height="61"/>
<text class="n" y="-8.5"><tspan x="0">125</tspan><tspan x="240">126</tspan><tspan x="480">127</tspan><tspan x="720">128</tspan></text>
<text class="s" y="76.5"><tspan x="238.5">368</tspan><tspan x="478.5">400</tspan><tspan x="718.5">250</tspan><tspan x="958.5">204</tspan></text>
<text class="c" y="89.5"><tspan x="238.5">153299</tspan><tspan x="478.5">154899</tspan><tspan x="718.5">155899</tspan><tspan x="958.5">156715</tspan></text>
<text class="p" y="103"><tspan x="238.5">0.00%</tspan><tspan x="478.5">0.00%</tspan><tspan x="718.5">0.00%</tspan><tspan x="958.5">32.65%</tspan></text>
</g>

<g id="row32" transform="translate(31.5 4717.5)">
<use href="#S4"/>
<path class="zr" d="M330 15H464.3"/><path class="zy" d="M330 30H464.3"/>
<use href="#pR"/><use href="#g" x="240"/><use href="#r" x="240"/><use href="#g" x="255"/><use href="#r" x="255"/><use href="#r" x="330"/><use href="#y" x="330"/>
<use href="#pS" x="480"/>
<text class="n" y="-8.5"><tspan x="0">129</tspan><tspan x="240">130</tspan><tspan x="480">131</tspan><tspan x="720">132</tspan></text>
<text class="s" y="76.5"><tspan x="238.5">250</tspan><tspan x="478.5">204</tspan><tspan x="718.5">234</tspan><tspan x="958.5">222</tspan></text>
<text class="c" y="89.5"><tspan x="238.5">157715</tspan><tspan x="478.5">158531</tspan><tspan x="718.5">159467</tspan><tspan x="958.5">160355</tspan></text>
<text class="p" y="103"><tspan x="238.5">32.65%</tspan><tspan x="478.5">32.65%</tspan><tspan x="718.5">32.65%</tspan><tspan x="958.5">32.65%</tspan></text>
</g>

<g id="row33" transform="translate(31.5 4858.5)">
<use href="#S4"/>
<path class="zy" d="M15 30H193.8"/><path class="zo" d="M15 60H193.8M240 60H464.3"/><path class="zr" d="M240 15H464.3"/>
<use href="#y"/><use href="#b"/><use href="#y" x="15"/><use href="#o" x="15"/><use href="#y" x="210"/><use href="#b" x="210"/>
<use href="#r" x="240"/><use href="#o" x="240"/>
<use href="#pS" x="480"/>
<text class="n" y="-8.5"><tspan x="0">133</tspan><tspan x="240">134</tspan><tspan x="480">135</tspan><tspan x="720">136</tspan></text>
<text class="s" y="76.5"><tspan x="238.5">222</tspan><tspan x="478.5">140</tspan><tspan x="718.5">234</tspan><tspan x="958.5">222</tspan></text>
<text class="c" y="89.5"><tspan x="238.5">161243</tspan><tspan x="478.5">161803</tspan><tspan x="718.5">162739</tspan><tspan x="958.5">163627</tspan></text>
<text class="p" y="103"><tspan x="238.5">32.65%</tspan><tspan x="478.5">32.65%</tspan><tspan x="718.5">32.65%</tspan><tspan x="958.5">32.65%</tspan></text>
</g>

<g id="row34" transform="translate(31.5 4999.5)">
<text class="t" x="480" y="-20.5">♩=118</text>
<use href="#S4"/>
<path class="zy" d="M15 30H434.2M570 30H704.6"/><path class="zo" d="M15 60H434.2"/><path class="zr" d="M570 15H704.6M810 15H944.3"/><path class="zb" d="M810 45H944.3"/>
<use href="#y"/><use href="#b"/><use href="#y" x="15"/><use href="#o" x="15"/>
<use href="#r" x="450"/>
<use href="#G" x="480"/><use href="#G" x="510"/><use href="#G" x="525"/><use href="#G" x="555"/><use href="#R" x="570"/><use href="#Y" x="570"/>
<use href="#pX" x="720"/><use href="#r" x="810"/><use href="#b" x="810"/>
<rect class="og" x="480" width="224.6" height="61"/>
<text class="n" y="-8.5"><tspan x="0">137</tspan><tspan x="240">138</tspan><tspan x="480">139</tspan><tspan x="720">140</tspan></text>
<text class="s" y="76.5"><tspan x="238.5">190</tspan><tspan x="478.5">103</tspan><tspan x="718.5">204</tspan><tspan x="958.5">204</tspan></text>
<text class="c" y="89.5"><tspan x="238.5">164387</tspan><tspan x="478.5">164799</tspan><tspan x="718.5">165615</tspan><tspan x="958.5">166431</tspan></text>
<text class="p" y="103"><tspan x="238.5">32.65%</tspan><tspan x="478.5">32.65%</tspan><tspan x="718.5">65.30%</tspan><tspan x="958.5">65.30%</tspan></text>
</g>

<g id="row35" transform="translate(31.5 5140.5)">
<use href="#S4"/>
<path class="zy" d="M90 30H224M330 30H464.3M570 30H704.6"/><path class="zo" d="M90 60H224"/><path class="zb" d="M330 45H464.3M810 45H944.3"/><path class="zr" d="M570 15H704.6M810 15H944.3"/>
<use href="#pX"/><use href="#y" x="90"/><use href="#o" x="90"/>
<use href="#pX" x="240"/><use href="#y" x="330"/><use href="#b" x="330"/>
<use href="#pX" x="480"/><use href="#r" x="570"/><use href="#y" x="570"/>
<use href="#pX" x="720"/><use href="#r" x="810"/><use href="#b" x="810"/>
<rect class="or" x="719.6" width="9.8" height="61"/>
<rect class="ob" x="729.4" width="230.6" height="61"/>
<text class="n" y="-8.5"><tspan x="0">141</tspan><tspan x="240">142</tspan><tspan x="480">143</tspan><tspan x="720">144</tspan></text>
<text class="s" y="76.5"><tspan x="238.5">204</tspan><tspan x="478.5">204</tspan><tspan x="718.5">204</tspan><tspan x="958.5">204</tspan></text>
<text class="c" y="89.5"><tspan x="238.5">167247</tspan><tspan x="478.5">168063</tspan><tspan x="718.5">168879</tspan><tspan x="958.5">170511</tspan></text>
<text class="p" y="103"><tspan x="238.5">65.30%</tspan><tspan x="478.5">65.30%</tspan><tspan x="718.5">65.30%</tspan><tspan x="958.5">53.36%</tspan></text>
</g>

<g id="row36" transform="translate(31.5 5281.5)">
<rect class="oy" x="750" y="-10.5" width="195" height="82"/>
<use href="#S4"/>
<path class="zy" d="M90 30H224M330 30H464.3"/><path class="zo" d="M90 60H224"/><path class="zb" d="M330 45H464.3"/>
<use href="#pX"/><use href="#y" x="90"/><use href="#o" x="90"/>
<use href="#pX" x="240"/><use href="#y" x="330"/><use href="#b" x="330"/>
<use href="#pT" x="480"/>
<use href="#R" x="750"/><use href="#R" x="765"/><use href="#Y" x="780"/><use href="#Y" x="795"/><use href="#R" x="810"/><use href="#R" x="825"/><use href="#G" x="870"/><use href="#G" x="885"/><use href="#R" x="900"/><use href="#R" x="915"/><use href="#G" x="930"/><use href="#G" x="945"/>
<rect class="ob" x="0" width="960" height="61"/>
<rect class="og" x="750" width="195" height="61"/>
<text class="n" y="-8.5"><tspan x="0">145</tspan><tspan x="240">146</tspan><tspan x="480">147</tspan><tspan x="720">148</tspan></text>
<text class="s" y="76.5"><tspan x="238.5">204</tspan><tspan x="478.5">204</tspan><tspan x="718.5">300</tspan><tspan x="958.5">300</tspan></text>
<text class="c" y="89.5"><tspan x="238.5">172143</tspan><tspan x="478.5">173775</tspan><tspan x="718.5">176175</tspan><tspan x="958.5">178575</tspan></text>
<text class="p" y="103"><tspan x="238.5">40.86%</tspan><tspan x="478.5">28.36%</tspan><tspan x="718.5">15.86%</tspan><tspan x="958.5">28.36%</tspan></text>
</g>

<g id="row37" transform="translate(31.5 5422.5)">
<use href="#S4"/>
<use href="#pT"/><use href="#pV" x="240"/><use href="#pT" x="480"/><use href="#pU" x="720"/>
<rect class="ob" x="0" width="960" height="61"/>
<text class="n" y="-8.5"><tspan x="0">149</tspan><tspan x="240">150</tspan><tspan x="480">151</tspan><tspan x="720">152</tspan></text>
<text class="s" y="76.5"><tspan x="238.5">300</tspan><tspan x="478.5">300</tspan><tspan x="718.5">300</tspan><tspan x="958.5">300</tspan></text>
<text class="c" y="89.5"><tspan x="238.5">180975</tspan><tspan x="478.5">183375</tspan><tspan x="718.5">185775</tspan><tspan x="958.5">188175</tspan></text>
<text class="p" y="103"><tspan x="238.5">15.86%</tspan><tspan x="478.5">3.36%</tspan><tspan x="718.5">0.00%</tspan><tspan x="958.5">0.00%</tspan></text>
</g>

<g id="row38" transform="translate(31.5 5563.5)">
<use href="#S4"/>
<path class="zr" d="M480 15H944.3"/><path class="zy" d="M480 30H944.3"/>
<use href="#pT"/><use href="#pV" x="240"/><use href="#r" x="480"/><use href="#y" x="480"/>
<rect class="ob" x="0" width="542.6" height="61"/>
<text class="n" y="-8.5"><tspan x="0">153</tspan><tspan x="240">154</tspan><tspan x="480">155</tspan><tspan x="720">156</tspan></text>
<text class="s" y="76.5"><tspan x="238.5">300</tspan><tspan x="478.5">300</tspan><tspan x="718.5">146</tspan><tspan x="958.5">90</tspan></text>
<text class="c" y="89.5"><tspan x="238.5">190575</tspan><tspan x="478.5">192975</tspan><tspan x="718.5">193863</tspan><tspan x="958.5">194223</tspan></text>
<text class="p" y="103"><tspan x="238.5">0.00%</tspan><tspan x="478.5">0.00%</tspan><tspan x="718.5">0.00%</tspan><tspan x="958.5">0.00%</tspan></text>
</g>

<g id="row39" transform="translate(31.5 5704.5)">
<use href="#S3"/>
<path class="zr" d="M0 15H224M360 15H464.3M480 15H539.4"/><path class="zy" d="M0 30H224M240 30H344.7M480 30H539.4"/><path class="zb" d="M240 45H344.7M360 45H464.3"/>
<use href="#r"/><use href="#y"/><use href="#y" x="240"/><use href="#b" x="240"/><use href="#r" x="360"/><use href="#b" x="360"/><use href="#r" x="480"/><use href="#y" x="480"/><use href="#g" x="555"/>
<text class="n" y="-8.5"><tspan x="0">157</tspan><tspan x="240">158</tspan><tspan x="480">159</tspan></text>
<text class="s" y="76.5"><tspan x="238.5">140</tspan><tspan x="478.5">184</tspan><tspan x="718.5">99</tspan></text>
<text class="c" y="89.5"><tspan x="238.5">194783</tspan><tspan x="478.5">195519</tspan><tspan x="718.5">195915</tspan></text>
<text class="p" y="103"><tspan x="238.5">0.00%</tspan><tspan x="478.5">0.00%</tspan><tspan x="718.5">0.00%</tspan></text>
</g>
</svg>
